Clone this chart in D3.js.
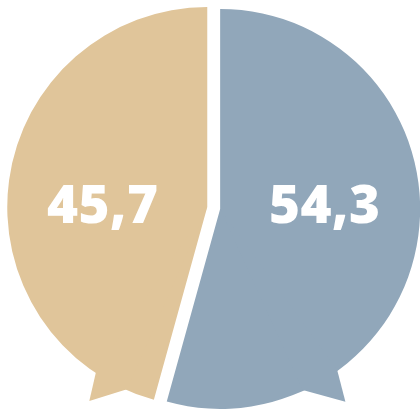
<!DOCTYPE html>
<html>
<head>
<meta charset="utf-8">
<script src="https://cdn.jsdelivr.net/npm/d3@7"></script>
<style>
  html, body { margin: 0; padding: 0; background: #ffffff; }
  svg { display: block; overflow: hidden; }
</style>
</head>
<body>
<svg id="chart" width="420" height="411"></svg>
<script>
// ---- data ----
const categories = ["B", "A"];
const values = [54.3, 45.7];
const valueLabels = ["54,3", "45,7"];

// ---- style ----
const colors = ["#91a7ba", "#e0c59a"];
const W = 420, H = 411;
const cx = 213.7, cy = 208, R = 200;
const explode = 6.5;
// speech-bubble tails: angles in degrees (clockwise from 12 o'clock), tip radius factor
const tails = [
  { a0: 144, a1: 155.5, tip: 147, tipR: 1.15 },
  { a0: 203.8, a1: 214, tip: 211.3, tipR: 1.135 }
];

const svg = d3.select("#chart");
const g = svg.append("g").attr("transform", `translate(${cx},${cy})`);

const pie = d3.pie().sort(null).value(d => d);
const arcs = pie(values);
const arc = d3.arc().innerRadius(0).outerRadius(R);
const rad = d => d * Math.PI / 180;
const pt = (a, r) => [Math.sin(rad(a)) * r, -Math.cos(rad(a)) * r];

arcs.forEach((a, i) => {
  const mid = (a.startAngle + a.endAngle) / 2;
  const ox = Math.sin(mid) * explode, oy = -Math.cos(mid) * explode;
  const sg = g.append("g").attr("transform", `translate(${ox},${oy})`);
  sg.append("path").attr("d", arc(a)).attr("fill", colors[i]);
  const t = tails[i];
  const poly = [pt(t.a0, R - 1), pt(t.tip, R * t.tipR), pt(t.a1, R - 1), [0, 0]];
  sg.append("path")
    .attr("d", d3.line()(poly) + "Z")
    .attr("fill", colors[i]);
  sg.append("text")
    .attr("x", Math.sin(mid) * 105.5)
    .attr("y", 15 - oy)
    .attr("text-anchor", "middle")
    .attr("fill", "#ffffff")
    .attr("font-family", "'Open Sans', sans-serif")
    .attr("font-weight", 800)
    .attr("font-size", 53)
    .attr("letter-spacing", 0.5)
    .text(valueLabels[i]);
});
</script>
</body>
</html>
